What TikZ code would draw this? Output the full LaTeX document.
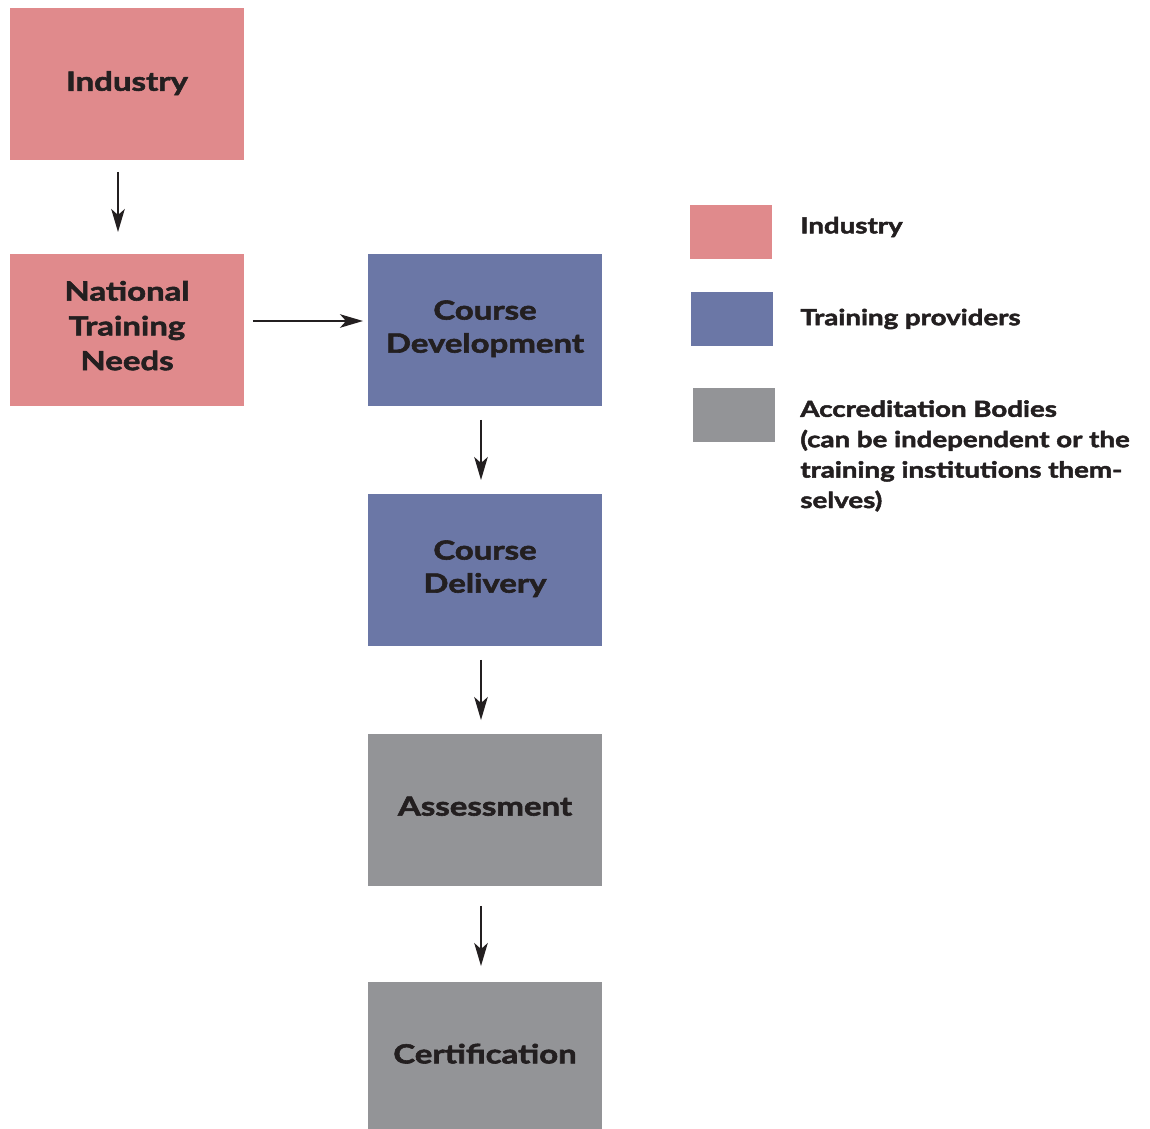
\documentclass[tikz,border=0pt]{standalone}
\usepackage{fontspec}
\setmainfont{Lato}[BoldFeatures={FakeBold=2.2, FakeStretch=1.25}]
\usetikzlibrary{arrows.meta}
\definecolor{pinkbox}{HTML}{E08A8C}
\definecolor{bluebox}{HTML}{6B77A6}
\definecolor{greybox}{HTML}{939497}
\definecolor{ink}{HTML}{231F20}
\newcommand{\boxlines}[2][0pt]{\raisebox{#1}[0pt][0pt]{\parbox{4.6cm}{\centering #2}}}
\tikzset{
  box/.style={draw=none, inner sep=0pt, outer sep=0pt, minimum width=4.68cm, minimum height=3.04cm, align=center, text=ink, font=\bfseries\fontsize{15}{19.8}\selectfont},
  swatch/.style={draw=none, inner sep=0pt, outer sep=0pt, minimum width=1.64cm, minimum height=1.08cm},
  legtext/.style={anchor=west, inner sep=0pt, align=left, text=ink, font=\bfseries\fontsize{12.6}{17.3}\selectfont},
  arr/.style={draw=ink, line width=1.1pt, -{Stealth[length=0.46cm, width=0.27cm, inset=0.12cm]}}
}
\begin{document}
\begin{tikzpicture}[x=0.02cm,y=-0.02cm]
\useasboundingbox (0,0) rectangle (1150,1129);
\node[box, fill=pinkbox] (ind) at (127,84) {\boxlines[-0.11cm]{Industry}};
\node[box, fill=pinkbox] (ntn) at (127,330) {\boxlines[-0.04cm]{National\\Training\\Needs}};
\node[box, fill=bluebox] (dev) at (485,330) {\boxlines[-0.1cm]{\fontsize{15}{18.8}\selectfont Course\\Development}};
\node[box, fill=bluebox] (del) at (485,570) {\boxlines[-0.1cm]{\fontsize{15}{18.8}\selectfont Course\\Delivery}};
\node[box, fill=greybox] (ass) at (485,810) {\boxlines[-0.05cm]{Assessment}};
\node[box, fill=greybox, minimum height=2.94cm] (cer) at (485,1055.5) {\boxlines[-0.09cm]{Certification}};

\draw[arr, shorten <=0.24cm, shorten >=0.44cm] ([xshift=-0.18cm]ind.south) -- ([xshift=-0.18cm]ntn.north);
\draw[arr, shorten <=0.18cm, shorten >=0.10cm] ([yshift=0.18cm]ntn.east) -- ([yshift=0.18cm]dev.west);
\draw[arr, shorten <=0.28cm, shorten >=0.28cm] ([xshift=-0.08cm]dev.south) -- ([xshift=-0.08cm]del.north);
\draw[arr, shorten <=0.28cm, shorten >=0.28cm] ([xshift=-0.08cm]del.south) -- ([xshift=-0.08cm]ass.north);
\draw[arr, shorten <=0.40cm, shorten >=0.32cm] ([xshift=-0.08cm]ass.south) -- ([xshift=-0.08cm]cer.north);

\node[swatch, fill=pinkbox] (s1) at (731,232) {};
\node[swatch, fill=bluebox] (s2) at (732,319) {};
\node[swatch, fill=greybox] (s3) at (734,415) {};
\node[legtext] (l1) at (800,227) {Industry};
\node[legtext] (l2) at (800,319) {Training providers};
\node[legtext, anchor=north west] (l3) at (800,400) {Accreditation Bodies\\(can be independent or the\\training institutions them-\\selves)};
\end{tikzpicture}
\end{document}
